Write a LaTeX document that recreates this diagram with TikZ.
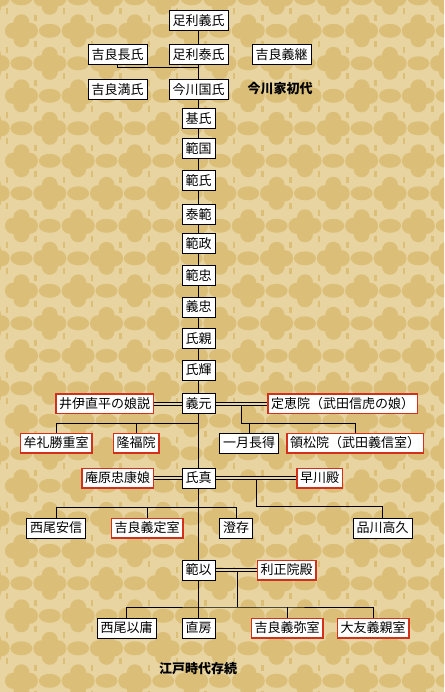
\documentclass[tikz,border=0pt]{standalone}
\usepackage{fontspec}
\newfontfamily\jpfont{Noto Sans CJK JP}
\usetikzlibrary{calc}
\definecolor{kinbg}{HTML}{E8D4A1}
\definecolor{kinpat}{HTML}{DBBF79}
\definecolor{wifered}{HTML}{D0301C}
\tikzset{
    person/.style={draw=black, fill=white, line width=1pt,
        font=\jpfont\fontsize{13}{13}\selectfont,
        inner xsep=3.5pt, inner ysep=0pt, minimum height=20pt},
    wife/.style={person, draw=none, fill=wifered, outer sep=0pt,
        minimum height=21pt, inner xsep=4pt,
        path picture={\fill[white]
            ([shift={(1.5pt,1.5pt)}]path picture bounding box.south west)
            rectangle
            ([shift={(-1.5pt,-1.5pt)}]path picture bounding box.north east);}},
    kin/.style={line width=1pt},
    wed/.style={line width=1pt, double=kinbg, double distance=2pt}
}

\begin{document}
\begin{tikzpicture}[
    x=1pt, y=-1pt,
    note/.style={font=\jpfont\bfseries\fontsize{13}{13}\selectfont}
]
\fill[kinbg] (0,0) rectangle (444,692);
\useasboundingbox (0,0) rectangle (444,692);
% background pattern
\begin{scope}
\clip (0,0) rectangle (444,692);
\foreach \r in {0,...,22} {
    \foreach \i in {0,...,8} {
        \pgfmathsetmacro\fx{-6.9+28.35*mod(\r,2)+56.7*\i}
        \pgfmathsetmacro\fy{-1.7+32.5*\r}
        \fill[kinpat] (\fx-8.5,\fy) circle (8pt) (\fx+8.5,\fy) circle (8pt)
            (\fx,\fy-8.5) circle (8pt) (\fx,\fy+8.5) circle (8pt)
            (\fx,\fy) circle (6pt);
        \fill[kinpat] (\fx+28.35,\fy) ellipse (11pt and 7pt);
        \draw[kinpat, line width=2.5pt] (\fx+14,\fy-16) -- (\fx+14,\fy-10)
            (\fx+14,\fy+10) -- (\fx+14,\fy+16);
    }
}
\end{scope}
% 足利から今川へ
\node[person] (yoshiuji) at (198.5,21) {足利義氏};
\node[person] (nagauji) at (117.5,55) {吉良長氏};
\node[person] (yasuuji) at (198.5,55) {足利泰氏};
\node[person] (yoshitsugu) at (281.5,55) {吉良義継};
\node[person] (mitsuuji) at (117.5,89.5) {吉良満氏};
\node[person] (kuniuji) at (198.5,89.5) {今川国氏};
\node[note] (shodai) at (280,89) {今川家初代};
% 当主の系統
\node[person] (motouji) at (198.5,119) {基氏};
\node[person] (norikuni) at (198.5,149) {範国};
\node[person] (noriuji) at (198.5,181) {範氏};
\node[person] (yasunori) at (198.5,214.5) {泰範};
\node[person] (norimasa) at (198.5,243.5) {範政};
\node[person] (noritada) at (198.5,275.5) {範忠};
\node[person] (yoshitada) at (198.5,307) {義忠};
\node[person] (ujichika) at (198.5,338.5) {氏親};
\node[person] (ujiteru) at (198.5,370) {氏輝};
% 義元
\node[person] (yoshimoto) at (198.5,403.5) {義元};
\node[wife] (iinao) at (104.5,403.5) {井伊直平の娘説};
\node[wife] (teikei) at (342.5,403.5) {定恵院（武田信虎の娘）};
\node[wife] (mure) at (56,443) {牟礼勝重室};
\node[wife] (ryufukuin) at (136,443) {隆福院};
\node[person] (ichigetsu) at (249,443) {一月長得};
\node[wife] (reishoin) at (355,443) {領松院（武田義信室）};
% 氏真
\node[person] (ujizane) at (198.5,478) {氏真};
\node[wife] (ihara) at (117.5,478) {庵原忠康娘};
\node[wife] (hayakawa) at (319.5,478) {早川殿};
\node[person] (nishio) at (56,528) {西尾安信};
\node[wife] (yoshisada) at (147,528) {吉良義定室};
\node[person] (chozon) at (236,528) {澄存};
\node[person] (shinagawa) at (382.5,528) {品川高久};
% 範以
\node[person] (noriyuki) at (198.5,570) {範以};
\node[wife] (rishoin) at (286.5,570) {利正院殿};
\node[person] (yasutsune) at (126.5,628) {西尾以庸};
\node[person] (naofusa) at (198.5,628) {直房};
\node[wife] (yoshimitsu) at (287,628) {吉良義弥室};
\node[wife] (otomo) at (373,628) {大友義親室};
\node[note] (edo) at (198,669) {江戸時代存続};

% connectors
\coordinate (b0) at (198.5,68);
\draw[kin] (yoshiuji) -- (yasuuji);
\draw[kin] (yasuuji) -- (kuniuji);
\draw[kin] (nagauji) |- (b0);
\foreach \a/\b in {kuniuji/motouji, motouji/norikuni, norikuni/noriuji,
    noriuji/yasunori, yasunori/norimasa, norimasa/noritada,
    noritada/yoshitada, yoshitada/ujichika, ujichika/ujiteru,
    ujiteru/yoshimoto, yoshimoto/ujizane, ujizane/noriyuki,
    noriyuki/naofusa}
    \draw[kin] (\a) -- (\b);

\coordinate (b1) at (198.5,423);
\coordinate (m1) at (241,403.5);
\coordinate (b2) at (241,423);
\draw[kin] (mure) |- (b1);
\draw[kin] (ryufukuin) -- (ryufukuin |- b1);
\draw[kin] (m1) -- (b2) -| (reishoin);
\draw[kin] (ichigetsu) -- (ichigetsu |- b2);
\draw[wed] (iinao) -- (yoshimoto);
\draw[wed] (yoshimoto) -- (teikei);

\coordinate (b3) at (236,507);
\coordinate (m2) at (256,478);
\coordinate (b4) at (256,506);
\draw[kin] (nishio) |- (b3) -- (chozon);
\draw[kin] (yoshisada) -- (yoshisada |- b3);
\draw[kin] (m2) -- (b4) -| (shinagawa);
\draw[wed] (ihara) -- (ujizane);
\draw[wed] (ujizane) -- (hayakawa);

\coordinate (m3) at (237,570);
\coordinate (b5) at (237,607);
\draw[kin] (m3) -- (b5);
\draw[kin] (yasutsune) |- (b5) -| (otomo);
\draw[kin] (yoshimitsu) -- (yoshimitsu |- b5);
\draw[wed] (noriyuki) -- (rishoin);
\end{tikzpicture}
\end{document}
